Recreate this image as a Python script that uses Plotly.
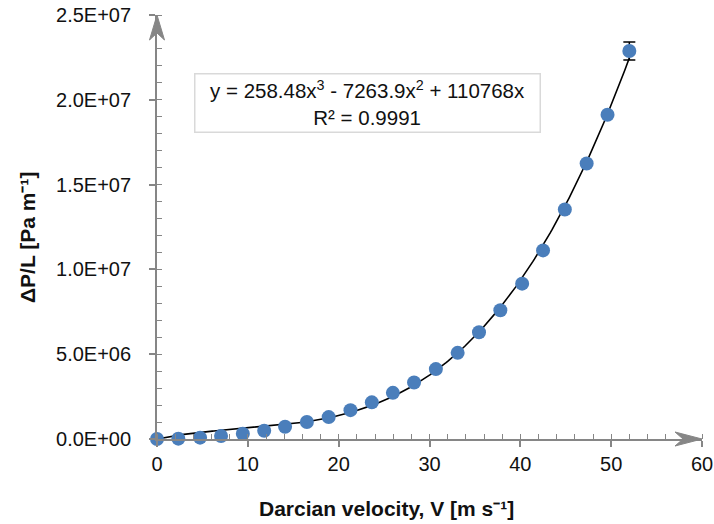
import numpy as np
import plotly.graph_objects as go

# Data
velocity = [0, 2.35, 4.74, 7.05, 9.45, 11.8, 14.1, 16.5, 18.9, 21.3, 23.65, 25.97,
            28.3, 30.7, 33.1, 35.45, 37.8, 40.2, 42.5, 44.9, 47.3, 49.6, 52.0]
dp_per_l = [0, 0.02e6, 0.08e6, 0.18e6, 0.31e6, 0.49e6, 0.72e6, 1.0e6, 1.29e6, 1.7e6,
            2.16e6, 2.72e6, 3.33e6, 4.12e6, 5.08e6, 6.29e6, 7.59e6, 9.16e6, 11.12e6,
            13.53e6, 16.24e6, 19.12e6, 22.88e6]
err = [0] * 22 + [0.53e6]

# Fitted cubic trendline coefficients (as displayed)
c3, c2, c1 = 258.48, -7263.9, 110768.0
x_ticks = [0, 10, 20, 30, 40, 50, 60]
y_ticks = [0, 5e6, 1e7, 1.5e7, 2e7, 2.5e7]
y_tick_labels = ["0.0E+00", "5.0E+06", "1.0E+07", "1.5E+07", "2.0E+07", "2.5E+07"]

FONT = "Arial, Liberation Sans, sans-serif"
AX = "#868686"
PW, PH = 545.0, 424.0  # plot area size in px

xf = np.linspace(0, max(velocity), 300)
yf = c3 * xf**3 + c2 * xf**2 + c1 * xf

fig = go.Figure()
fig.add_trace(go.Scatter(x=xf, y=yf, mode="lines",
                         line=dict(color="black", width=1.6),
                         hoverinfo="skip", showlegend=False, cliponaxis=False))
fig.add_trace(go.Scatter(x=velocity, y=dp_per_l, mode="markers",
                         marker=dict(color="#4A7EBB", size=14),
                         error_y=dict(type="data", array=err, color="black",
                                      thickness=1.5, width=6),
                         showlegend=False, cliponaxis=False))

# axis arrows (paper units)
def P(x, y):
    return f"{x:.5f} {y:.5f}"

ya = "M " + P(0, 1) + " L " + P(-7.5 / PW, 1 - 25 / PH) + " L " + P(0, 1 - 18 / PH) + \
     " L " + P(7.5 / PW, 1 - 25 / PH) + " Z"
xa = "M " + P(1, 0) + " L " + P(1 - 27 / PW, -7 / PH) + " L " + P(1 - 19 / PW, 0) + \
     " L " + P(1 - 27 / PW, 7 / PH) + " Z"
for pth in (ya, xa):
    fig.add_shape(type="path", xref="paper", yref="paper", path=pth,
                  fillcolor=AX, line=dict(color=AX, width=1), layer="above")

fig.update_xaxes(range=[0, 60], tickvals=x_ticks, showgrid=False, zeroline=False,
                 automargin=False, ticklabeloverflow="allow",
                 showline=True, linecolor=AX, linewidth=1.8,
                 ticks="outside", ticklen=6, tickwidth=1.5, tickcolor=AX,
                 ticklabelstandoff=0,
                 tickfont=dict(family=FONT, size=20, color="#111"),
                 minor=dict(ticks="inside", dtick=2, ticklen=5, tickwidth=1.3,
                            tickcolor=AX, showgrid=False))
fig.update_yaxes(range=[0, 2.5e7], tickvals=y_ticks, ticktext=y_tick_labels,
                 showgrid=False, zeroline=False, automargin=False,
                 ticklabeloverflow="allow",
                 showline=True, linecolor=AX, linewidth=1.8,
                 ticks="outside", ticklen=6, tickwidth=1.5, tickcolor=AX,
                 ticklabelstandoff=14,
                 tickfont=dict(family=FONT, size=20, color="#111"),
                 minor=dict(ticks="inside", dtick=1e6, ticklen=5, tickwidth=1.3,
                            tickcolor=AX, showgrid=False))

fig.add_annotation(xref="paper", yref="paper", x=(386 - 157) / PW, y=-(508 - 439) / PH,
                   text="<b>Darcian velocity, V [m s⁻¹]</b>", showarrow=False,
                   font=dict(family=FONT, size=21, color="#111"),
                   xanchor="center", yanchor="middle")
fig.add_annotation(xref="paper", yref="paper", x=-(157 - 27) / PW, y=(439 - 238) / PH,
                   text="<b>ΔP/L [Pa m⁻¹]</b>", showarrow=False, textangle=-90,
                   font=dict(family=FONT, size=21, color="#111"),
                   xanchor="center", yanchor="middle")
fig.add_annotation(xref="paper", yref="paper", x=(367 - 157) / PW, y=(439 - 103) / PH,
                   text="y = 258.48x<sup>3</sup> - 7263.9x<sup>2</sup> + 110768x<br>R² = 0.9991",
                   showarrow=False, align="center", valign="middle",
                   width=344, height=57, bordercolor="#D9D9D9", borderwidth=1.5,
                   bgcolor="white", borderpad=0,
                   font=dict(family=FONT, size=20.5, color="#111"),
                   xanchor="center", yanchor="middle")

fig.update_layout(width=714, height=524,
                  margin=dict(l=157, r=714 - 157 - int(PW), t=15, b=524 - 15 - int(PH)),
                  plot_bgcolor="white", paper_bgcolor="white",
                  font=dict(family=FONT))
fig.write_html("out.html", config={"displayModeBar": False},
               post_script="document.body.style.margin='0';document.body.style.overflow='hidden';")
